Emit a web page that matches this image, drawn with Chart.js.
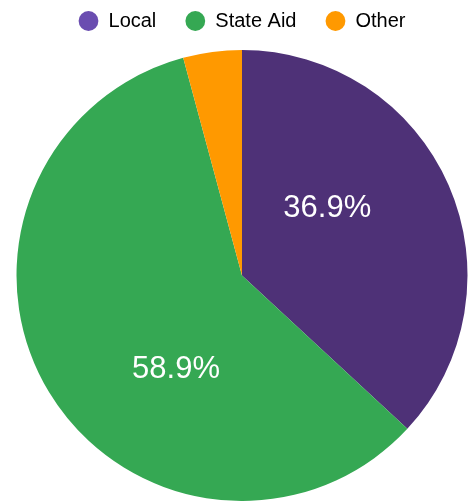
<!DOCTYPE html>
<html>
<head>
<meta charset="utf-8">
<script src="https://cdn.jsdelivr.net/npm/chart.js@4"></script>
<style>
  body { margin: 0; background: #fff; }
  #wrap { width: 474px; height: 501px; position: relative; }
</style>
</head>
<body>
<div id="wrap"><canvas id="myChart"></canvas></div>
<script>
const labels = ['Local', 'State Aid', 'Other'];
const shares = [36.9, 58.9, 4.2];
const sliceColors = ['#4e3177', '#35a853', '#ff9900'];
const legendColors = ['#6a4db0', '#35a853', '#ff9900'];

// where each percent label sits: screen angle (deg) and fraction of radius
const labelSpots = [
  { angle: -38, r: 0.48 },
  { angle: 125, r: 0.51 },
  null,
];

const pctLabels = {
  id: 'pctLabels',
  beforeInit(chart) {
    // legend items sit high, but the pie starts lower down
    const fit = chart.legend.fit;
    chart.legend.fit = function () {
      fit.call(this);
      this.height = 68;
    };
  },
  afterDatasetsDraw(chart) {
    const ctx = chart.ctx;
    const arcs = chart.getDatasetMeta(0).data;
    ctx.save();
    ctx.fillStyle = '#fff';
    ctx.font = '31px "Liberation Sans", Arial, sans-serif';
    ctx.textAlign = 'center';
    ctx.textBaseline = 'middle';
    arcs.forEach((arc, i) => {
      const spot = labelSpots[i];
      if (!spot) return;
      const a = spot.angle * Math.PI / 180;
      const x = arc.x + Math.cos(a) * arc.outerRadius * spot.r;
      const y = arc.y + Math.sin(a) * arc.outerRadius * spot.r;
      ctx.fillText(shares[i].toFixed(1) + '%', x, y);
    });
    ctx.restore();
  }
};

const ctx = document.getElementById('myChart').getContext('2d');
const sourcesChart = new Chart(ctx, {
  type: 'pie',
  data: {
    labels: labels,
    datasets: [{
      data: shares,
      backgroundColor: sliceColors,
      borderWidth: 0,
    }],
  },
  options: {
    responsive: true,
    maintainAspectRatio: false,
    animation: false,
    layout: { padding: { left: 10, top: -18 } },
    plugins: {
      tooltip: { enabled: false },
      legend: {
        position: 'top',
        labels: {
          usePointStyle: true,
          boxHeight: 14,
          padding: 29,
          color: '#333',
          font: { size: 20, family: '"Liberation Sans", Arial, sans-serif' },
          generateLabels: (chart) => labels.map((l, i) => ({
            text: l,
            fillStyle: legendColors[i],
            strokeStyle: legendColors[i],
            lineWidth: 0,
            pointStyle: 'circle',
            hidden: false,
            index: i,
          })),
        },
      },
    },
  },
  plugins: [pctLabels],
});
</script>
</body>
</html>
